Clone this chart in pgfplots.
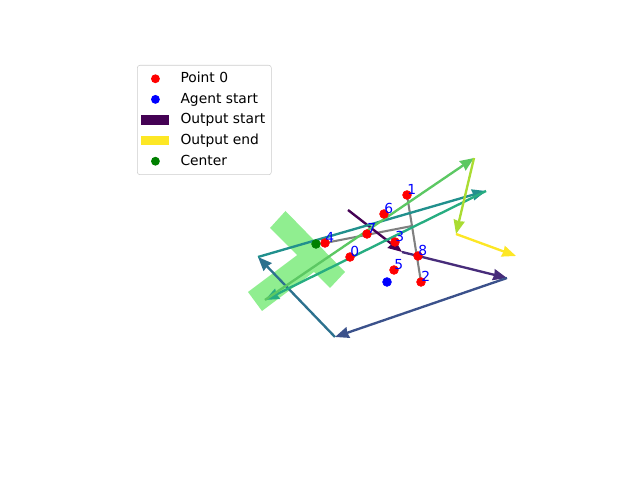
\documentclass[border=0pt]{standalone}
\usepackage{fontspec}
\setmainfont{DejaVu Sans}
\usepackage{pgfplots}
\pgfplotsset{compat=1.18}
\usetikzlibrary{arrows.meta}
\definecolor{v0}{HTML}{440154}
\definecolor{v1}{HTML}{472C7A}
\definecolor{v2}{HTML}{3B518B}
\definecolor{v3}{HTML}{2C718E}
\definecolor{v4}{HTML}{21908D}
\definecolor{v5}{HTML}{27AD81}
\definecolor{v6}{HTML}{5CC863}
\definecolor{v7}{HTML}{AADC32}
\definecolor{v8}{HTML}{FDE725}
\definecolor{lgreen}{HTML}{90EE90}
\definecolor{mgreen}{HTML}{008000}
\definecolor{mred}{HTML}{FF0000}
\definecolor{mblue}{HTML}{0000FF}
\begin{document}
\begin{tikzpicture}
\begin{axis}[
  scale only axis, width=6.4in, height=4.8in,
  xmin=0, xmax=640, ymin=0, ymax=480,
  hide axis, clip=false,
  legend cell align=left,
  legend style={at={(axis cs:137,415)}, anchor=north west,
    draw=black!20, fill=white, fill opacity=0.8, text opacity=1,
    rounded corners=2pt, font=\fontsize{10}{12}\selectfont,
    inner xsep=3pt, inner ysep=3.5pt, row sep=2.4pt,
    /tikz/every odd column/.append style={column sep=6.5pt},
    nodes={inner sep=1.5pt, text height=7.5pt, text depth=2pt}},
  arr/.style={line width=1.7pt, -{Stealth[length=10pt,width=8pt,inset=0.6pt]}, forget plot},
]
\addlegendimage{legend image code/.code={\path[draw=none,fill=none] (0,0) -- (0.28in,0); \fill[mred, draw=none, fill opacity=1] (0.14in,0) circle (3.2pt);}}
\addlegendentry{Point 0}
\addlegendimage{legend image code/.code={\path[draw=none,fill=none] (0,0) -- (0.28in,0); \fill[mblue, draw=none, fill opacity=1] (0.14in,0) circle (3.2pt);}}
\addlegendentry{Agent start}
\addlegendimage{legend image code/.code={\fill[v0, draw=none, fill opacity=1, sharp corners] (0,-0.047in) rectangle (0.28in,0.047in);}}
\addlegendentry{Output start}
\addlegendimage{legend image code/.code={\fill[v8, draw=none, fill opacity=1, sharp corners] (0,-0.047in) rectangle (0.28in,0.047in);}}
\addlegendentry{Output end}
\addlegendimage{legend image code/.code={\path[draw=none,fill=none] (0,0) -- (0.28in,0); \fill[mgreen, draw=none, fill opacity=1] (0.14in,0) circle (3.2pt);}}
\addlegendentry{Center}

% bounding box of the figure
\path (axis cs:0,0) rectangle (axis cs:640,480);

% light green region
\addplot[fill=lgreen, draw=none, forget plot] coordinates {(285.5,269) (345,208) (330,192) (270,252)};
\addplot[fill=lgreen, draw=none, forget plot] coordinates {(248,188) (308,233) (322,214) (262,169)};

% points
\addplot[only marks, mark=*, mark size=3.2pt, mred, forget plot] table {
x y
350 223
407 285
421 198
395 238
325 237
394 210
384 266
367 246
418 224
};

% grey lines
\addplot[gray, line width=1.5pt, forget plot] coordinates {(407,285) (421,198)};
\addplot[gray, line width=1.5pt, forget plot] coordinates {(325,237) (412,254)};

% agent start and center
\addplot[only marks, mark=*, mark size=3.2pt, mblue, forget plot] coordinates {(387,198)};
\addplot[only marks, mark=*, mark size=3.2pt, mgreen, forget plot] coordinates {(316,236)};

% output arrows
\addplot[arr, v0] coordinates {(348,270) (402,228)};
\addplot[arr, v1] coordinates {(402,228) (507,202)};
\addplot[arr, v2] coordinates {(507,202) (335,143)};
\addplot[arr, v3] coordinates {(335,143) (258,223)};
\addplot[arr, v4] coordinates {(258,223) (486,289)};
\addplot[arr, v5] coordinates {(486,289) (265,180)};
\addplot[arr, v6] coordinates {(265,180) (474,322)};
\addplot[arr, v7] coordinates {(474,322) (456,246)};
\addplot[arr, v8] coordinates {(456,246) (516,224)};

% labels
\addplot[draw=none, mark=none, forget plot, nodes near coords, point meta=explicit symbolic,
  nodes near coords style={anchor=base west, inner sep=0pt, mblue, font=\fontsize{10}{12}\selectfont}]
  table[meta=lab] {
x y lab
350 223 0
407 285 1
421 198 2
395 238 3
325 237 4
394 210 5
384 266 6
367 246 7
418 224 8
};
\end{axis}
\end{tikzpicture}
\end{document}
